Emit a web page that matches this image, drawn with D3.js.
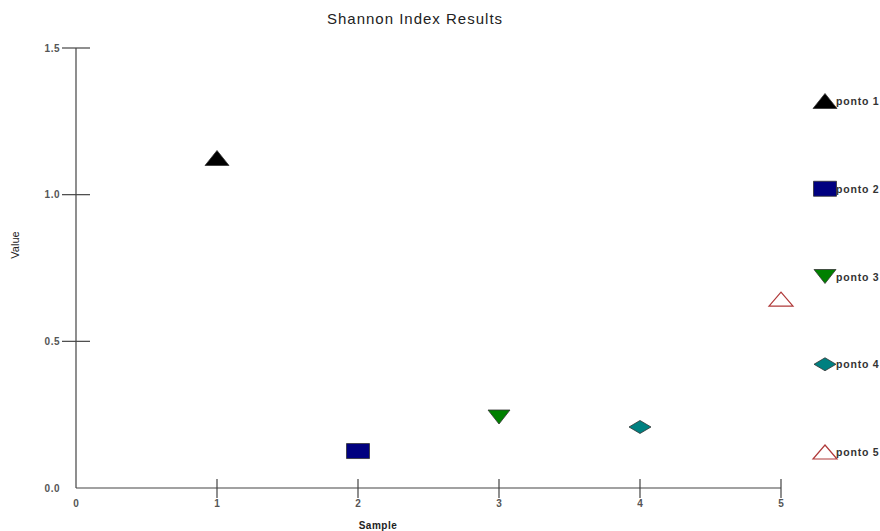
<!DOCTYPE html>
<html><head><meta charset="utf-8">
<script src="https://cdn.jsdelivr.net/npm/d3@7"></script>
<style>body{margin:0;background:#fff}svg{display:block}</style>
</head><body>
<svg id="c" width="880" height="531"></svg>
<script>
const samples = [1, 2, 3, 4, 5];
const values = [1.125, 0.126, 0.242, 0.208, 0.644];
const names = ["ponto 1", "ponto 2", "ponto 3", "ponto 4", "ponto 5"];
const shapes = ["tri", "square", "down", "diamond", "open"];
const colors = ["#000000", "#000080", "#008000", "#008080", "#b03a3a"];
const xTicks = [0, 1, 2, 3, 4, 5];
const yTicks = [0.0, 0.5, 1.0, 1.5];

const svg = d3.select("#c");
const x = d3.scaleLinear().domain([0, 5]).range([76, 781]);
const y = d3.scaleLinear().domain([0, 1.5]).range([488, 48]);

function path(shape, w, h) {
  const a = w / 2, b = h / 2;
  if (shape === "tri" || shape === "open") return `M0,${-b}L${a},${b}L${-a},${b}Z`;
  if (shape === "down") return `M${-a},${-b}L${a},${-b}L0,${b}Z`;
  if (shape === "square") return `M${-a},${-b}H${a}V${b}H${-a}Z`;
  return `M${-a},0L0,${-b}L${a},0L0,${b}Z`;
}
const dims = {tri:[24,15], open:[24,14], down:[22,14], square:[23,15], diamond:[22,13]};
function style(sel, i) {
  if (shapes[i] === "open") sel.attr("fill", "#fff").attr("stroke", colors[i]).attr("stroke-width", 1.2);
  else sel.attr("fill", colors[i]).attr("stroke", "#333").attr("stroke-width", 0.8);
}

const axisColor = "#444";
const tickFont = "bold 10px 'Liberation Sans', Arial, sans-serif";

svg.append("line").attr("x1", x(0)).attr("x2", x(5)).attr("y1", y(0)).attr("y2", y(0)).attr("stroke", axisColor).attr("stroke-width", 1.2);
svg.append("line").attr("x1", x(0)).attr("x2", x(0)).attr("y1", y(0)).attr("y2", y(1.5)).attr("stroke", axisColor).attr("stroke-width", 1.2);

xTicks.forEach(t => {
  if (t > 0) svg.append("line").attr("x1", x(t)).attr("x2", x(t)).attr("y1", y(0) - 9).attr("y2", y(0) + 10).attr("stroke", axisColor).attr("stroke-width", 1.2);
  svg.append("text").attr("x", x(t)).attr("y", 507).attr("text-anchor", "middle").attr("fill", "#555").style("font", tickFont).text(t);
});
yTicks.forEach(t => {
  if (t > 0) svg.append("line").attr("x1", x(0) - 14).attr("x2", x(0) + 14).attr("y1", y(t)).attr("y2", y(t)).attr("stroke", axisColor).attr("stroke-width", 1.2);
  svg.append("text").attr("x", 60).attr("y", y(t) + 3.5).attr("text-anchor", "end").attr("fill", "#555").style("font", tickFont).style("letter-spacing", "0.5px").text(t.toFixed(1));
});

svg.append("text").attr("x", 415).attr("y", 24).attr("text-anchor", "middle").attr("fill", "#222").style("font", "15px 'Liberation Sans', Arial, sans-serif").style("letter-spacing", "1px").text("Shannon Index Results");
svg.append("text").attr("x", 378).attr("y", 529).attr("text-anchor", "middle").attr("fill", "#222").style("font", "bold 10px 'Liberation Sans', Arial, sans-serif").style("letter-spacing", "0.5px").text("Sample");
svg.append("text").attr("transform", "translate(19,245) rotate(-90)").attr("text-anchor", "middle").attr("fill", "#222").style("font", "11px 'Liberation Sans', Arial, sans-serif").text("Value");

samples.forEach((s, i) => {
  const d = dims[shapes[i]];
  svg.append("path").attr("d", path(shapes[i], d[0], d[1])).attr("transform", `translate(${x(s)},${y(values[i])})`).call(style, i);
});

const legY = d3.scalePoint().domain(names).range([101, 452]);
names.forEach((n, i) => {
  const d = dims[shapes[i]];
  svg.append("path").attr("d", path(shapes[i], d[0], d[1])).attr("transform", `translate(825,${legY(n)})`).call(style, i);
  svg.append("text").attr("x", 836).attr("y", legY(n) + 4).attr("fill", "#333").style("font", "bold 10.5px 'Liberation Sans', Arial, sans-serif").style("letter-spacing", "0.8px").text(n);
});
</script>
</body></html>
